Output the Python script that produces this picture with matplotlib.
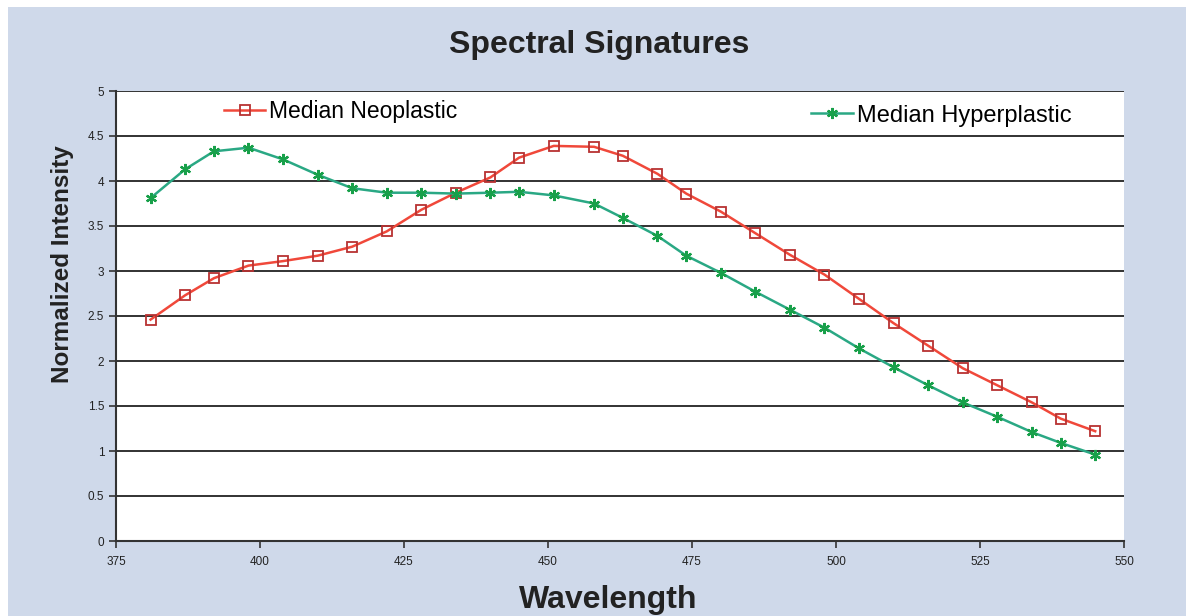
import matplotlib.pyplot as plt
from matplotlib.patches import Rectangle
from matplotlib.ticker import FuncFormatter

plt.rcParams['font.family'] = ['Liberation Sans', 'DejaVu Sans']

wavelength = [381, 387, 392, 398, 404, 410, 416, 422, 428, 434, 440, 445, 451, 458, 463,
              469, 474, 480, 486, 492, 498, 504, 510, 516, 522, 528, 534, 539, 545]
neoplastic = [2.46, 2.73, 2.92, 3.06, 3.11, 3.17, 3.27, 3.44, 3.68, 3.87, 4.04, 4.26, 4.39, 4.38, 4.28,
              4.08, 3.86, 3.66, 3.42, 3.18, 2.96, 2.69, 2.42, 2.17, 1.92, 1.73, 1.54, 1.36, 1.22]
hyperplastic = [3.81, 4.13, 4.33, 4.37, 4.24, 4.07, 3.92, 3.87, 3.87, 3.86, 3.87, 3.88, 3.84, 3.75, 3.59,
                3.39, 3.17, 2.98, 2.77, 2.57, 2.37, 2.14, 1.93, 1.73, 1.54, 1.38, 1.21, 1.09, 0.96]

fig = plt.figure(figsize=(11.86, 6.16), dpi=100, facecolor='white')
fig.patches.append(Rectangle((8/1186, 0), 1, 1 - 7/616, transform=fig.transFigure,
                             facecolor='#cfd9ea', edgecolor='none', zorder=-10))

ax = fig.add_axes([116/1186, 1 - 541/616, 1008/1186, 450/616])
ax.set_facecolor('white')

l1, = ax.plot(wavelength, neoplastic, color='#f0483a', lw=1.8, marker='s', markersize=6.5,
              markerfacecolor='none', markeredgecolor='#b83232', markeredgewidth=1.3,
              label='Median Neoplastic', zorder=3)
l2, = ax.plot(wavelength, hyperplastic, color='#2aa884', lw=1.8, marker=(6, 2, 0), markersize=8,
              markeredgecolor='#18a04a', markeredgewidth=1.6,
              label='Median Hyperplastic', zorder=3)

ax.set_xlim(375, 550)
ax.set_ylim(0, 5)
ax.set_xticks(range(375, 551, 25))
ax.set_yticks([i * 0.5 for i in range(11)])
ax.yaxis.set_major_formatter(FuncFormatter(lambda v, p: ('%g' % v)))
ax.grid(axis='y', color='#222222', lw=1.3)
ax.set_axisbelow(True)
ax.spines['right'].set_visible(False)
ax.spines['top'].set_visible(False)
for s in ['left', 'bottom']:
    ax.spines[s].set_color('#333333')
    ax.spines[s].set_linewidth(1.5)
ax.tick_params(axis='both', direction='out', length=5, width=1.2, color='#333333',
               labelsize=8.5, labelcolor='#222222')
ax.tick_params(axis='x', pad=6)

ax.set_xlabel('Wavelength', fontsize=23, fontweight='bold', color='#222222', va='center')
ax.xaxis.set_label_coords(0.488, -0.132)
ax.set_ylabel('Normalized Intensity', fontsize=17.5, fontweight='bold', color='#222222', va='center')
ax.yaxis.set_label_coords(-0.0526, 0.616)
fig.text(0.505, 1 - 45/616, 'Spectral Signatures', ha='center', va='center',
         fontsize=23, fontweight='bold', color='#222222')

leg1 = ax.legend(handles=[l1], loc='center left', bbox_to_anchor=(0.098, 0.954), frameon=False,
                 fontsize=16.5, handlelength=1.8, handletextpad=0.15, borderaxespad=0)
ax.add_artist(leg1)
ax.legend(handles=[l2], loc='center left', bbox_to_anchor=(0.68, 0.945), frameon=False,
          fontsize=17, handlelength=1.8, handletextpad=0.15, borderaxespad=0)

fig.savefig('out.png', dpi=100)
